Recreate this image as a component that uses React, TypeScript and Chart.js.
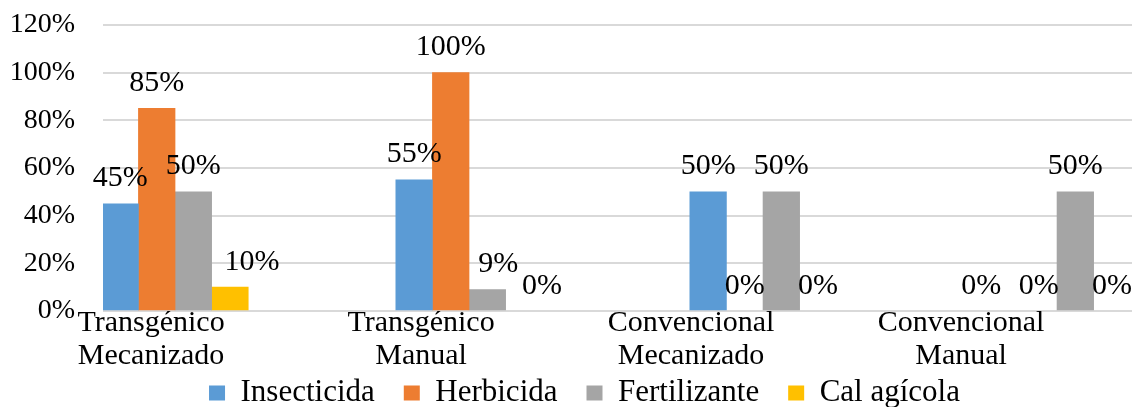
import React, { useEffect, useRef } from 'react';
import { Chart, registerables } from 'chart.js';

Chart.register(...registerables);

const FONT = '"Liberation Serif", "Times New Roman", serif';

const categories = [
  ['Transgénico', 'Mecanizado'],
  ['Transgénico', 'Manual'],
  ['Convencional', 'Mecanizado'],
  ['Convencional', 'Manual'],
];
const seriesNames = ['Insecticida', 'Herbicida', 'Fertilizante', 'Cal agícola'];
const insecticida = [45, 55, 50, 0];
const herbicida = [85, 100, 0, 0];
const fertilizante = [50, 9, 50, 50];
const calAgricola = [10, 0, 0, 0];
const yTicks = [0, 20, 40, 60, 80, 100, 120];
const colors = ['#5B9BD5', '#ED7D31', '#A5A5A5', '#FFC000'];

// small horizontal nudges of value labels (as Excel shifts colliding labels)
const labelNudge: Record<string, number> = { '3-0': 22, '2-1': 11, '3-1': 18, '0-3': -21 };

const dataLabels = {
  id: 'dataLabels',
  afterDatasetsDraw(chart: any) {
    const ctx = chart.ctx;
    ctx.save();
    ctx.font = `30px ${FONT}`;
    ctx.fillStyle = '#000';
    ctx.textAlign = 'center';
    ctx.textBaseline = 'alphabetic';
    chart.data.datasets.forEach((ds: any, di: number) => {
      const meta = chart.getDatasetMeta(di);
      meta.data.forEach((el: any, i: number) => {
        const v = ds.data[i].y;
        const n = labelNudge[`${di}-${i}`] || 0;
        ctx.fillText(`${v}%`, el.x + n, el.y - 17.5);
      });
    });
    ctx.restore();
  },
};

// place the legend like the original (centred a bit right of the canvas centre)
const legendPlace = {
  id: 'legendPlace',
  afterLayout(chart: any) {
    const lg = chart.legend;
    if (!lg) return;
    lg.left = 37;
    lg.top = chart.chartArea.bottom + 37.5;
  },
};

export default function App() {
  const ref = useRef<HTMLCanvasElement>(null);
  useEffect(() => {
    if (!ref.current) return;
    const series = [insecticida, herbicida, fertilizante, calAgricola];
    const chart = new Chart(ref.current, {
      type: 'bar',
      data: {
        datasets: series.map((vals, si) => ({
          label: seriesNames[si],
          data: vals.map((v, i) => ({ x: i, y: v })),
          backgroundColor: (c: any) =>
            c.raw && c.raw.y === 0 ? 'rgba(0,0,0,0)' : colors[si],
          borderWidth: 0,
          xAxisID: 'xBar',
          yAxisID: 'y',
          barThickness: 36.6,
        })),
      },
      options: {
        animation: false,
        responsive: true,
        maintainAspectRatio: false,
        layout: { padding: { left: 0, top: 25, right: 0, bottom: -32 } },
        scales: {
          xBar: {
            type: 'linear',
            display: false,
            min: -0.245,
            max: 3.255,
            offset: false,
            grid: { offset: false },
          },
          xLab: {
            type: 'linear',
            position: 'bottom',
            min: -0.178,
            max: 3.633,
            offset: false,
            grid: { display: false, drawTicks: false },
            border: { display: false },
            afterBuildTicks: (s: any) => {
              s.ticks = categories.map((_, i) => ({ value: i }));
            },
            ticks: {
              autoSkip: false,
              maxRotation: 0,
              padding: -4,
              color: '#000',
              font: { family: FONT, size: 30, lineHeight: 1.1 },
              callback: (v: any) => categories[v] as any,
            },
          },
          y: {
            min: 0,
            max: 120,
            afterBuildTicks: (s: any) => {
              s.ticks = yTicks.map((v) => ({ value: v }));
            },
            afterFit: (s: any) => {
              s.width = 103;
            },
            grid: {
              color: '#D9D9D9',
              lineWidth: 2,
              drawTicks: true,
              tickLength: 28,
              tickColor: 'rgba(0,0,0,0)',
            },
            border: { display: false },
            ticks: {
              padding: 0,
              color: '#000',
              font: { family: FONT, size: 28 },
              callback: (v: any) => `${v}%`,
            },
          },
        },
        plugins: {
          tooltip: { enabled: false },
          legend: {
            position: 'bottom',
            labels: {
              boxWidth: 16,
              boxHeight: 15,
              padding: 29,
              color: '#000',
              font: { family: FONT, size: 31 },
              generateLabels: (chart: any) =>
                chart.data.datasets.map((ds: any, i: number) => ({
                  text: ds.label,
                  fillStyle: colors[i],
                  strokeStyle: colors[i],
                  lineWidth: 0,
                  hidden: false,
                  datasetIndex: i,
                  fontColor: '#000',
                })),
            },
          },
        },
      } as any,
      plugins: [dataLabels, legendPlace],
    });
    return () => chart.destroy();
  }, []);
  return (
    <div style={{ position: 'absolute', left: 0, top: 0, width: 1132, height: 407, background: '#fff' }}>
      <canvas ref={ref} />
    </div>
  );
}
